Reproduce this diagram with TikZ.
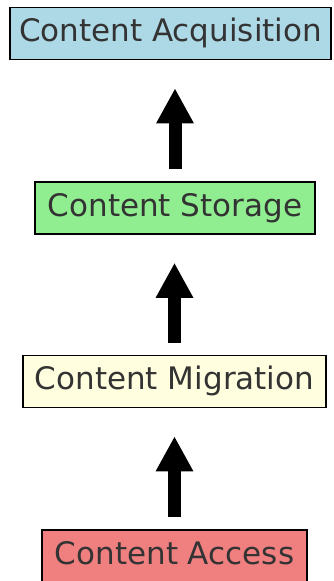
\documentclass[tikz,border=0pt]{standalone}
\usepackage{fontspec}
\setmainfont{DejaVu Sans}
\usetikzlibrary{arrows.meta}
\definecolor{accolor}{HTML}{ADD8E6}
\definecolor{stcolor}{HTML}{90EE90}
\definecolor{micolor}{HTML}{FFFFE0}
\definecolor{axcolor}{HTML}{F08080}
\definecolor{txtcolor}{HTML}{333333}
\tikzset{
  stagebox/.style={draw=black, line width=1.5pt, rectangle, inner sep=0pt,
    minimum height=52pt, text height=23.6pt, text depth=7.3pt,
    text=txtcolor, font=\fontsize{31}{37}\selectfont},
  bigarrow/.style={draw=black, line width=13pt,
    -{Triangle[width=35pt,length=35pt]}, shorten <=12pt, shorten >=28pt}
}
\begin{document}
\begin{tikzpicture}[x=1pt,y=-1pt]
\useasboundingbox (0,0) rectangle (333,581);
\node[stagebox, fill=accolor, minimum width=321pt] (acq) at (170.5,33.5) {Content Acquisition};
\node[stagebox, fill=stcolor, minimum width=280pt] (sto) at (175,208) {Content Storage};
\node[stagebox, fill=micolor, minimum width=303pt] (mig) at (174.5,381.5) {Content Migration};
\node[stagebox, fill=axcolor, minimum width=265pt] (acc) at (174.5,556) {Content Access};
\draw[bigarrow] (sto.north) -- (sto.north |- acq.south);
\draw[bigarrow] (mig.north) -- (mig.north |- sto.south);
\draw[bigarrow] (acc.north) -- (acc.north |- mig.south);
\end{tikzpicture}
\end{document}
